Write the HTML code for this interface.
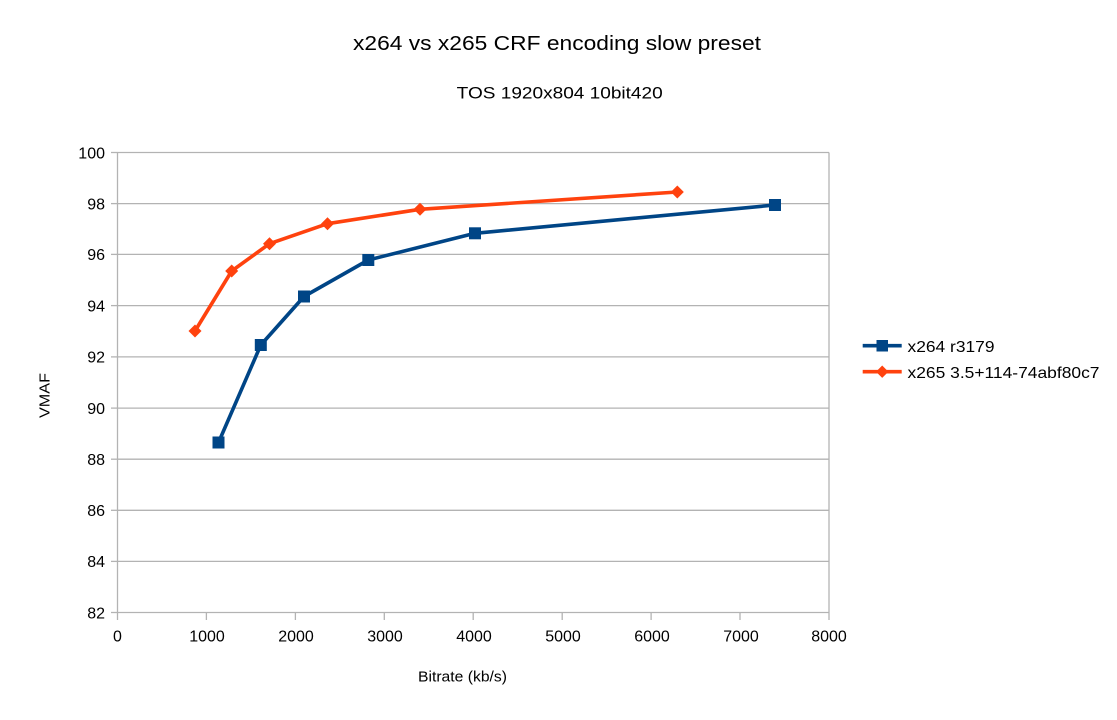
<!DOCTYPE html>
<html>
<head>
<meta charset="utf-8">
<style>
  html, body { margin:0; padding:0; background:#ffffff; }
  svg { display:block; }
  text { font-family: "Liberation Sans", Arial, sans-serif; fill:#000; }
</style>
</head>
<body>
<svg width="1117" height="720" viewBox="0 0 1117 720" xmlns="http://www.w3.org/2000/svg">
  <rect width="1117" height="720" fill="#ffffff"/>

  <!-- Titles -->
  <text x="557" y="50" font-size="20" text-anchor="middle" textLength="408" lengthAdjust="spacingAndGlyphs">x264 vs x265 CRF encoding slow preset</text>
  <text x="559.7" y="98.3" font-size="17" text-anchor="middle" textLength="206" lengthAdjust="spacingAndGlyphs">TOS 1920x804 10bit420</text>

  <!-- Gridlines -->
  <g stroke="#b3b3b3" stroke-width="1.3" fill="none">
    <line x1="117.5" y1="152.5" x2="829" y2="152.5"/>
    <line x1="117.5" y1="203.6" x2="829" y2="203.6"/>
    <line x1="117.5" y1="254.4" x2="829" y2="254.4"/>
    <line x1="117.5" y1="305.6" x2="829" y2="305.6"/>
    <line x1="117.5" y1="356.9" x2="829" y2="356.9"/>
    <line x1="117.5" y1="408.1" x2="829" y2="408.1"/>
    <line x1="117.5" y1="459.2" x2="829" y2="459.2"/>
    <line x1="117.5" y1="510.3" x2="829" y2="510.3"/>
    <line x1="117.5" y1="561.4" x2="829" y2="561.4"/>
    <line x1="829" y1="152.5" x2="829" y2="612.5"/>
    <line x1="117.5" y1="152.5" x2="117.5" y2="612.5"/>
    <line x1="117.5" y1="612.5" x2="829" y2="612.5"/>
    <line x1="111" y1="152.5" x2="117.5" y2="152.5"/>
    <line x1="111" y1="203.6" x2="117.5" y2="203.6"/>
    <line x1="111" y1="254.4" x2="117.5" y2="254.4"/>
    <line x1="111" y1="305.6" x2="117.5" y2="305.6"/>
    <line x1="111" y1="356.9" x2="117.5" y2="356.9"/>
    <line x1="111" y1="408.1" x2="117.5" y2="408.1"/>
    <line x1="111" y1="459.2" x2="117.5" y2="459.2"/>
    <line x1="111" y1="510.3" x2="117.5" y2="510.3"/>
    <line x1="111" y1="561.4" x2="117.5" y2="561.4"/>
    <line x1="111" y1="612.5" x2="117.5" y2="612.5"/>
    <line x1="117.5" y1="612.5" x2="117.5" y2="620"/>
    <line x1="206.4" y1="612.5" x2="206.4" y2="620"/>
    <line x1="295.4" y1="612.5" x2="295.4" y2="620"/>
    <line x1="384.3" y1="612.5" x2="384.3" y2="620"/>
    <line x1="473.2" y1="612.5" x2="473.2" y2="620"/>
    <line x1="562.2" y1="612.5" x2="562.2" y2="620"/>
    <line x1="651.1" y1="612.5" x2="651.1" y2="620"/>
    <line x1="740.0" y1="612.5" x2="740.0" y2="620"/>
    <line x1="829" y1="612.5" x2="829" y2="620"/>
  </g>

  <!-- Y tick labels -->
  <g font-size="16" text-anchor="end">
    <text x="105" y="158.3">100</text>
    <text x="105" y="209.3">98</text>
    <text x="105" y="260.2">96</text>
    <text x="105" y="311.4">94</text>
    <text x="105" y="362.7">92</text>
    <text x="105" y="413.9">90</text>
    <text x="105" y="465">88</text>
    <text x="105" y="516.1">86</text>
    <text x="105" y="567.2">84</text>
    <text x="105" y="618.3">82</text>
  </g>

  <!-- X tick labels -->
  <g font-size="16" text-anchor="middle">
    <text x="117.5" y="641.5">0</text>
    <text x="207" y="641.5">1000</text>
    <text x="296" y="641.5">2000</text>
    <text x="385" y="641.5">3000</text>
    <text x="474" y="641.5">4000</text>
    <text x="563" y="641.5">5000</text>
    <text x="652" y="641.5">6000</text>
    <text x="741" y="641.5">7000</text>
    <text x="829" y="641.5">8000</text>
  </g>

  <!-- Axis titles -->
  <text x="462.5" y="681.5" font-size="15" text-anchor="middle" textLength="89" lengthAdjust="spacingAndGlyphs">Bitrate (kb/s)</text>
  <text transform="translate(49.5,395.5) rotate(-90)" x="0" y="0" font-size="15" text-anchor="middle" textLength="45" lengthAdjust="spacingAndGlyphs">VMAF</text>

  <!-- x264 series -->
  <polyline fill="none" stroke="#004586" stroke-width="3.6" stroke-linejoin="round"
    points="218.5,442.5 260.8,345 304,296.5 368.3,260 475,233.3 775,205"/>
  <g fill="#004586">
    <rect x="212.5" y="436.5" width="12" height="12"/>
    <rect x="254.8" y="339" width="12" height="12"/>
    <rect x="298" y="290.5" width="12" height="12"/>
    <rect x="362.3" y="254" width="12" height="12"/>
    <rect x="469" y="227.3" width="12" height="12"/>
    <rect x="769" y="199" width="12" height="12"/>
  </g>

  <!-- x265 series -->
  <polyline fill="none" stroke="#ff420e" stroke-width="3.6" stroke-linejoin="round"
    points="195,331 231.7,271 269.5,243.7 327.5,223.7 420,209.3 677.3,192"/>
  <g fill="#ff420e">
    <polygon points="195,324.5 201.5,331 195,337.5 188.5,331"/>
    <polygon points="231.7,264.5 238.2,271 231.7,277.5 225.2,271"/>
    <polygon points="269.5,237.2 276,243.7 269.5,250.2 263,243.7"/>
    <polygon points="327.5,217.2 334,223.7 327.5,230.2 321,223.7"/>
    <polygon points="420,202.8 426.5,209.3 420,215.8 413.5,209.3"/>
    <polygon points="677.3,185.5 683.8,192 677.3,198.5 670.8,192"/>
  </g>

  <!-- Legend -->
  <line x1="862.7" y1="345.7" x2="901.7" y2="345.7" stroke="#004586" stroke-width="3.6"/>
  <rect x="876.5" y="340" width="11.5" height="11.5" fill="#004586"/>
  <text x="907.5" y="352" font-size="16" textLength="87" lengthAdjust="spacingAndGlyphs">x264 r3179</text>

  <line x1="862.7" y1="371.7" x2="901.7" y2="371.7" stroke="#ff420e" stroke-width="3.6"/>
  <polygon points="882.2,365.5 888.4,371.7 882.2,377.9 876,371.7" fill="#ff420e"/>
  <text x="907.5" y="378" font-size="16" textLength="192" lengthAdjust="spacingAndGlyphs">x265 3.5+114-74abf80c7</text>
</svg>
</body>
</html>
